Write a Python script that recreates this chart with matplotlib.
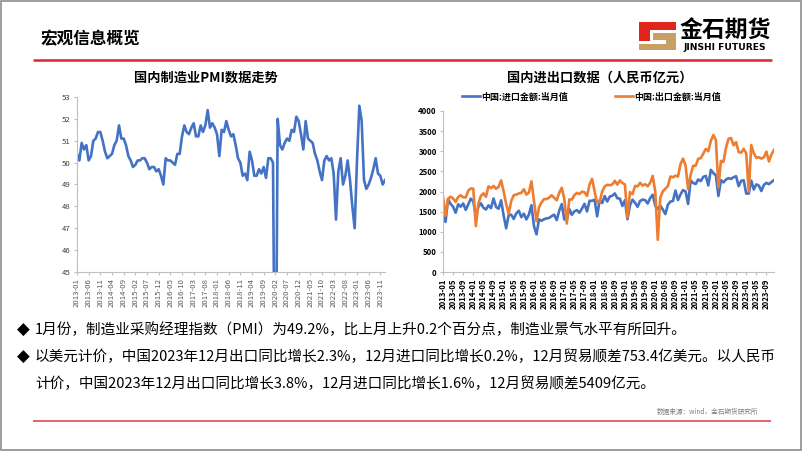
import numpy as np
import pandas as pd
import matplotlib
matplotlib.use("Agg")
import matplotlib.pyplot as plt
from matplotlib.patches import Polygon, Rectangle

plt.rcParams['font.family'] = ['Noto Sans CJK SC', 'DejaVu Sans']
plt.rcParams['axes.unicode_minus'] = False

# PMI, monthly 2013-01 .. 2024-01
pmi = [50.4, 50.1, 50.9, 50.6, 50.8, 50.1, 50.3, 51.0, 51.1, 51.4, 51.4, 51.0,
       50.5, 50.2, 50.3, 50.4, 50.8, 51.0, 51.7, 51.1, 51.1, 50.8, 50.3, 50.1,
       49.8, 49.9, 50.1, 50.1, 50.2, 50.2, 50.0, 49.7, 49.8, 49.8, 49.6, 49.7,
       49.4, 49.0, 50.2, 50.1, 50.1, 50.0, 49.9, 50.4, 50.4, 51.2, 51.7, 51.4,
       51.3, 51.6, 51.8, 51.2, 51.2, 51.7, 51.4, 51.7, 52.4, 51.6, 51.8, 51.6,
       51.3, 50.3, 51.5, 51.4, 51.9, 51.5, 51.2, 51.3, 50.8, 50.2, 50.0, 49.4,
       49.5, 49.2, 50.5, 50.1, 49.4, 49.4, 49.7, 49.5, 49.8, 49.3, 50.2, 50.2,
       50.0, 35.7, 52.0, 50.8, 50.6, 50.9, 51.1, 51.0, 51.5, 51.4, 52.1, 51.9,
       51.3, 50.6, 51.9, 51.1, 51.0, 50.9, 50.4, 50.1, 49.6, 49.2, 50.1, 50.3,
       50.1, 50.2, 49.5, 47.4, 49.6, 50.2, 49.0, 49.4, 50.1, 49.2, 48.0, 47.0,
       50.1, 52.6, 51.9, 49.2, 48.8, 49.0, 49.3, 49.7, 50.2, 49.5, 49.4, 49.0,
       49.2]
pmi_months = pd.period_range("2013-01", periods=len(pmi), freq="M").strftime("%Y-%m")

# monthly trade values, 2013-01 .. 2023-12
imports = [1583, 1243, 1813, 1690, 1622, 1472, 1682, 1622, 1703, 1543, 1684, 1821,
           1753, 1371, 1624, 1705, 1596, 1553, 1656, 1586, 1827, 1615, 1572, 1781,
           1402, 1086, 1416, 1423, 1317, 1457, 1522, 1362, 1449, 1307, 1428, 1659,
           1142, 935, 1307, 1273, 1312, 1333, 1342, 1388, 1424, 1290, 1522, 1686,
           1309, 1294, 1566, 1420, 1508, 1537, 1473, 1575, 1695, 1505, 1769, 1769,
           1795, 1383, 1784, 1714, 1887, 1751, 1873, 1895, 1952, 1831, 1824, 1641,
           1783, 1311, 1659, 1796, 1721, 1619, 1764, 1799, 1785, 1701, 1836, 1920,
           1650, 1560, 1651, 1551, 1439, 1671, 1749, 1764, 2024, 1787, 1928, 2036,
           2000, 1690, 2275, 2212, 2186, 2299, 2258, 2362, 2389, 2150, 2538, 2458,
           2400, 1888, 2283, 2225, 2298, 2333, 2312, 2355, 2380, 2131, 2264, 2280,
           1950, 1947, 2270, 2049, 2177, 2148, 2011, 2165, 2214, 2183, 2235, 2283]
exports = [1874, 1396, 1821, 1871, 1827, 1743, 1860, 1907, 1856, 1854, 2022, 2077,
           2071, 1141, 1701, 1889, 1955, 1868, 2128, 2084, 2137, 2069, 2117, 2275,
           2002, 1692, 1446, 1763, 1907, 1922, 1952, 1966, 2055, 1924, 1969, 2253,
           1773, 1261, 1607, 1728, 1811, 1814, 1845, 1906, 1845, 1781, 1968, 2094,
           1822, 1203, 1804, 1800, 1911, 1965, 1937, 1995, 1980, 1889, 2171, 2315,
           2002, 1716, 1739, 2000, 2127, 2167, 2155, 2174, 2266, 2171, 2274, 2212,
           2175, 1352, 1986, 1934, 2138, 2128, 2215, 2148, 2182, 2129, 2217, 2387,
           2000, 800, 1851, 2004, 2068, 2135, 2373, 2353, 2394, 2371, 2680, 2818,
           2645, 2060, 2413, 2639, 2639, 2814, 2827, 2943, 3057, 3002, 3255, 3404,
           3274, 2100, 2760, 2736, 3085, 3311, 3329, 3147, 3227, 2983, 2962, 3061,
           2950, 2000, 3155, 2954, 2835, 2853, 2817, 2848, 2991, 2748, 2919, 3036]
trade_months = pd.period_range("2013-01", periods=len(exports), freq="M").strftime("%Y-%m")

blue = "#4472C4"
orange = "#ED7D31"
red = "#D9262C"
W, H = 802, 451

fig = plt.figure(figsize=(W / 100, H / 100), dpi=100)

# slide decorations drawn in pixel coordinates
bg = fig.add_axes([0, 0, 1, 1], zorder=0)
bg.set_xlim(0, W)
bg.set_ylim(H, 0)
bg.axis("off")
bg.add_patch(Rectangle((0.5, 0.5), W - 1.5, H - 1.5, fill=False, ec="#8C8C8C", lw=1.2))
bg.plot([33, 772], [60, 60], color=red, lw=1.8, solid_capstyle="butt")
bg.plot([33, 771], [421, 421], color="#E04A55", lw=1.2, solid_capstyle="butt")
bg.text(40, 39, "宏观信息概览", fontsize=12, fontweight="bold", va="center", ha="left")

# logo
bg.add_patch(Polygon([(639, 22), (676, 22), (676, 30), (650, 30), (650, 41), (639, 41)],
                     closed=True, color="#E1251B", lw=0))
bg.add_patch(Polygon([(653, 33), (676, 33), (676, 50), (639, 50), (639, 44), (666, 44),
                      (666, 40), (653, 40)], closed=True, color="#C8A063", lw=0))
bg.text(725, 31, "金石期货", fontsize=16.5, fontweight="bold", ha="center", va="center")
bg.text(725, 47, "JINSHI FUTURES", fontsize=6.6, fontweight="bold", ha="center", va="center",
        family="DejaVu Sans")

bg.text(206, 78, "国内制造业PMI数据走势", fontsize=9.5, fontweight="bold", ha="center", va="center")
bg.text(600, 78, "国内进出口数据（人民币亿元）", fontsize=9.5, fontweight="bold", ha="center", va="center")

# bullet text
lines = [
    (23, 35, 330, "1月份，制造业采购经理指数（PMI）为49.2%，比上月上升0.2个百分点，制造业景气水平有所回升。"),
    (23, 35, 357, "以美元计价，中国2023年12月出口同比增长2.3%，12月进口同比增长0.2%，12月贸易顺差753.4亿美元。以人民币"),
    (None, 35, 384, "计价，中国2023年12月出口同比增长3.8%，12月进口同比增长1.6%，12月贸易顺差5409亿元。"),
]
for bx, tx, ty, s in lines:
    if bx is not None:
        bg.text(bx, ty, "◆", fontsize=12, ha="center", va="center", family=["DejaVu Sans"])
    bg.text(tx, ty, s, fontsize=10.5, ha="left", va="center")
bg.text(758, 412, "数据来源：wind，金石期货研究所", fontsize=4.8, color="#7F7F7F", ha="right", va="center")

spine_c = "#BFBFBF"

# left chart: PMI
ax1 = fig.add_axes([77 / W, 1 - 272 / H, 308 / W, 175 / H], zorder=1)
x1 = np.arange(len(pmi))
ax1.plot(x1, pmi, color=blue, lw=1.9)
ax1.set_ylim(45, 53)
ax1.set_xlim(0, len(pmi) - 1)
ax1.set_yticks(range(45, 54))
ax1.set_xticks(x1[::5])
ax1.set_xticklabels(pmi_months[::5], rotation=90)
ax1.tick_params(axis="x", labelsize=5.6, colors="#595959", length=2.5, color=spine_c, pad=2)
ax1.tick_params(axis="y", labelsize=5.6, colors="#404040", length=2.5, color=spine_c, pad=2)
for s in ["top", "right"]:
    ax1.spines[s].set_visible(False)
for s in ["left", "bottom"]:
    ax1.spines[s].set_color(spine_c)
    ax1.spines[s].set_linewidth(0.8)

# right chart: trade
ax2 = fig.add_axes([443 / W, 1 - 272 / H, 331 / W, 161 / H], zorder=1)
x2 = np.arange(len(exports))
ax2.plot(x2, imports, color=blue, lw=1.9, label="中国:进口金额:当月值")
ax2.plot(x2, exports, color=orange, lw=1.9, label="中国:出口金额:当月值")
ax2.set_ylim(0, 4000)
ax2.set_xlim(0, len(exports) - 1)
ax2.set_yticks(range(0, 4001, 500))
ax2.set_xticks(x2[::4])
ax2.set_xticklabels(trade_months[::4], rotation=90, fontweight="bold")
for lab in ax2.get_yticklabels():
    lab.set_fontweight("bold")
ax2.tick_params(axis="both", labelsize=5.6, colors="black", length=2.5, color=spine_c, pad=2)
for s in ["top", "right"]:
    ax2.spines[s].set_visible(False)
for s in ["left", "bottom"]:
    ax2.spines[s].set_color(spine_c)
    ax2.spines[s].set_linewidth(0.8)
leg = ax2.legend(loc="center", bbox_to_anchor=(0.449, 1 + 14 / 161), ncol=2, frameon=False,
                 fontsize=6.5, handlelength=2.0, handletextpad=0.1, columnspacing=5.2,
                 borderaxespad=0)
for t in leg.get_texts():
    t.set_fontweight("bold")

fig.savefig("out.png", dpi=100)
